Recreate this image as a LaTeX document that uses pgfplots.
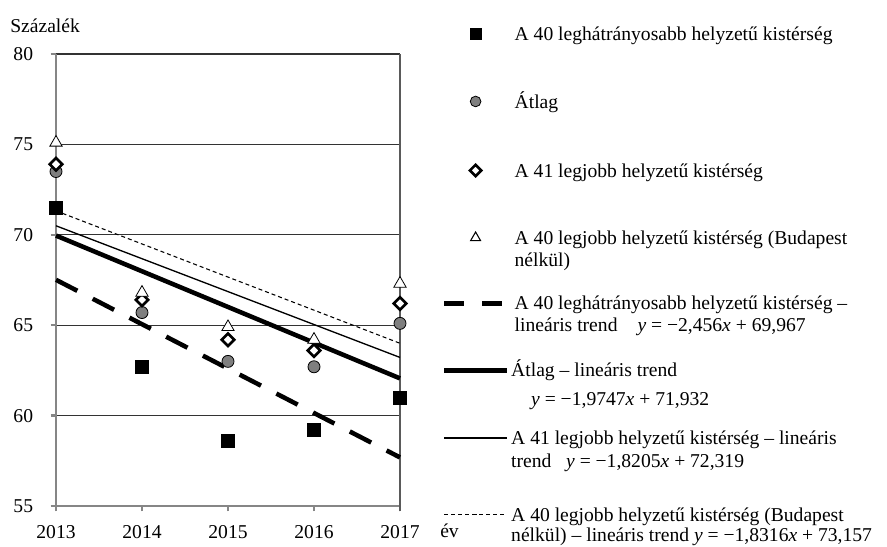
\documentclass[border=0pt]{standalone}
\usepackage{pgfplots}
\pgfplotsset{compat=1.18}
\usepackage{fontspec}
\setmainfont{Liberation Serif}
\definecolor{axgray}{HTML}{868686}
\definecolor{rgray}{HTML}{5A5A5A}
\definecolor{cgray}{HTML}{7F7F7F}
\pgfplotsset{myleg/.style={legend image code/.code={%
    \path[draw=none,fill=none] (0pt,13.5pt) rectangle (47pt,-#1);
    \draw[mark repeat=2,mark phase=2,##1] plot coordinates {(0pt,4.9pt) (23.5pt,4.9pt) (47pt,4.9pt)};}}}
\begin{document}
\fontsize{14.7pt}{16.9pt}\selectfont
\begin{tikzpicture}
\begin{axis}[
  name=ax,
  scale only axis, width=258pt, height=339pt,
  xmin=2013, xmax=2017, ymin=55, ymax=80,
  xtick={2013,2014,2015,2016,2017}, ytick={55,60,65,70,75,80},
  /pgf/number format/assume math mode=true,
  /pgf/number format/1000 sep={},
  axis lines=left,
  axis line style={-, draw=axgray, line width=1.8pt},
  tick style={draw=axgray, line width=1.8pt},
  tick align=outside, major tick length=4pt,
  every tick label/.append style={inner sep=0pt},
  yticklabel shift=13pt,
  xticklabel shift=10.5pt,
  ymajorgrids,
  major grid style={draw=black!80, line width=0.8pt},
  extra x ticks={2017}, extra x tick labels={},
  extra x tick style={grid=major, major grid style={draw=rgray, line width=1pt}, tick style={draw=rgray, line width=1pt}},
  clip=false,
  every axis y label/.style={at={(rel axis cs:0,1)}, anchor=base west, xshift=-34.5pt, yshift=16pt, inner sep=0pt},
  ylabel={Százalék},
  every axis x label/.style={at={(rel axis cs:1,0)}, anchor=base west, xshift=30pt, yshift=-23.5pt, inner sep=0pt},
  xlabel={év},
  legend style={at={(1,1)}, anchor=north west, xshift=31.5pt, yshift=24pt,
    draw=none, fill=none, inner sep=0pt, outer sep=0pt,
    nodes={inner sep=0pt, outer sep=0pt}, column sep=1.5pt, row sep=0pt,
    cells={anchor=base west}},
]
% trend lines
\addplot[forget plot, black, line width=3.4pt, dash pattern=on 18pt off 13pt] coordinates {(2013,67.511) (2014,65.055) (2015,62.599) (2016,60.143) (2017,57.687)};
\addplot[forget plot, black, line width=3.4pt] coordinates {(2013,69.957) (2014,67.983) (2015,66.008) (2016,64.033) (2017,62.059)};
\addplot[forget plot, black, line width=1pt] coordinates {(2013,70.499) (2014,68.678) (2015,66.858) (2016,65.037) (2017,63.217)};
\addplot[forget plot, black, line width=0.8pt, dash pattern=on 3pt off 2.25pt] coordinates {(2013,71.325) (2014,69.494) (2015,67.662) (2016,65.831) (2017,63.999)};
% markers
\addplot[forget plot, only marks, mark=square*, mark size=5pt, mark options={fill=black, draw=black}] coordinates {(2013,71.5) (2014,62.7) (2015,58.6) (2016,59.2) (2017,61.0)};
\addplot[forget plot, only marks, mark=*, mark size=4.5pt, mark options={fill=cgray, draw=black, line width=0.6pt}] coordinates {(2013,73.5) (2014,65.7) (2015,63.0) (2016,62.7) (2017,65.1)};
\addplot[forget plot, only marks, mark=square*, mark size=3.3pt, mark options={rotate=45, fill=white, draw=black, line width=2pt}] coordinates {(2013,73.9) (2014,66.4) (2015,64.2) (2016,63.6) (2017,66.2)};
\addplot[forget plot, only marks, mark=triangle*, mark size=5.3pt, mark options={fill=white, draw=black, line width=0.6pt}] coordinates {(2013,75.1) (2014,66.8) (2015,64.9) (2016,64.2) (2017,67.3)};
% legend
\addlegendimage{myleg=37.5pt, only marks, mark=square*, mark size=4pt, mark options={fill=black, draw=black}}
\addlegendentry{\hspace*{2.6pt}\parbox[t]{300pt}{\rule{0pt}{13.5pt}A 40 leghátrányosabb helyzetű kistérség}}
\addlegendimage{myleg=38.25pt, only marks, mark=*, mark size=4pt, mark options={fill=cgray, draw=black, line width=0.6pt}}
\addlegendentry{\hspace*{2.6pt}\parbox[t]{300pt}{\rule{0pt}{13.5pt}Átlag}}
\addlegendimage{myleg=36.95pt, only marks, mark=square*, mark size=3pt, mark options={rotate=45, fill=white, draw=black, line width=1.9pt}}
\addlegendentry{\hspace*{2.6pt}\parbox[t]{300pt}{\rule{0pt}{13.5pt}A 41 legjobb helyzetű kistérség}}
\addlegendimage{myleg=35.75pt, only marks, mark=triangle*, mark size=4.3pt, mark options={fill=white, draw=black, line width=0.8pt}}
\addlegendentry{\hspace*{2.6pt}\parbox[t]{300pt}{\rule{0pt}{13.5pt}A 40 legjobb helyzetű kistérség (Budapest\\[-0.6pt]nélkül)}}
\addlegendimage{myleg=36.75pt, black, line width=3.4pt, dash pattern=on 15pt off 13.5pt}
\addlegendentry{\hspace*{2.6pt}\parbox[t]{300pt}{\rule{0pt}{13.5pt}A 40 leghátrányosabb helyzetű kistérség –\\[-0.6pt]lineáris trend\hspace*{15pt}\textit{y} = −2,456\textit{x} + 69,967}}
\addlegendimage{myleg=37.25pt, black, line width=3.4pt}
\addlegendentry{\parbox[t]{300pt}{\rule{0pt}{13.5pt}Átlag – lineáris trend\\[4.3pt]\hspace*{15pt}\textit{y} = −1,9747\textit{x} + 71,932}}
\addlegendimage{myleg=44.1pt, black, line width=1pt}
\addlegendentry{\parbox[t]{300pt}{\rule{0pt}{13.5pt}A 41 legjobb helyzetű kistérség – lineáris\\[0.6pt]trend\hspace*{11pt}\textit{y} = −1,8205\textit{x} + 72,319}}
\addlegendimage{myleg=5pt, black, line width=0.8pt, dash pattern=on 3pt off 2.25pt}
\addlegendentry{\parbox[t]{300pt}{\rule{0pt}{13.5pt}A 40 legjobb helyzetű kistérség (Budapest\\[-1.5pt]nélkül) – lineáris trend \textit{y} = −1,8316\textit{x} + 73,157}}
\end{axis}
\pgfresetboundingbox
\useasboundingbox (ax.south west) ++(-42pt,-30pt) rectangle ++(665.25pt,409.5pt);
\end{tikzpicture}
\end{document}
